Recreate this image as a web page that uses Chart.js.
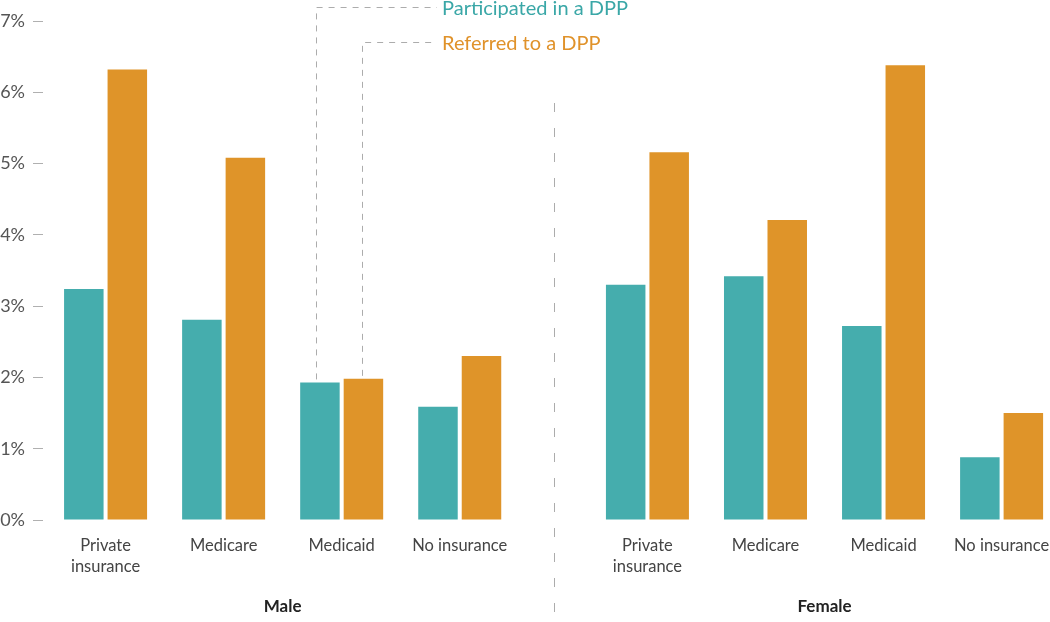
<!DOCTYPE html>
<html>
<head>
<meta charset="utf-8">
<script src="https://cdn.jsdelivr.net/npm/chart.js@4"></script>
<style>
  html, body { margin: 0; padding: 0; background: #fff; }
  #wrap { width: 1050px; height: 622px; position: relative; }
</style>
</head>
<body>
<div id="wrap"><canvas id="dppChart" width="1050" height="622"></canvas></div>
<script>
// categories per panel
const insurance = [['Private', 'insurance'], 'Medicare', 'Medicaid', 'No insurance'];
const panels = ['Male', 'Female'];
// percent of adults with prediabetes
const participatedMale = [3.24, 2.81, 1.93, 1.59];
const participatedFemale = [3.30, 3.42, 2.72, 0.88];
const referredMale = [6.32, 5.08, 1.98, 2.30];
const referredFemale = [5.16, 4.21, 6.38, 1.50];
const yTicks = [0, 1, 2, 3, 4, 5, 6, 7];

const TEAL = '#45adad';
const ORANGE = '#df9429';
const PANEL_GAP = 0.59; // extra space between Male and Female panels (category units)

const labels = [...insurance, ...insurance];
const xPos = labels.map((_, i) => i < insurance.length ? i : i + PANEL_GAP);
const participated = [...participatedMale, ...participatedFemale];
const referred = [...referredMale, ...referredFemale];

const font = 'Lato, "Noto Sans", sans-serif';

const annotations = {
    id: 'annotations',
    afterDatasetsDraw(chart) {
        const c = chart.ctx;
        const xs = chart.scales.x;
        c.save();
        c.strokeStyle = '#acacac';
        c.lineWidth = 1;

        // divider between panels
        const midVal = (xPos[insurance.length - 1] + xPos[insurance.length]) / 2;
        const dx = Math.round(xs.getPixelForValue(midVal)) + 0.5;
        c.setLineDash([9, 16]);
        c.beginPath();
        c.moveTo(dx, 103);
        c.lineTo(dx, chart.height);
        c.stroke();

        // leader lines to the male Medicaid bars
        const tealBar = chart.getDatasetMeta(0).data[2];
        const orangeBar = chart.getDatasetMeta(1).data[2];
        const textX = 442;
        const legend = [
            { bar: tealBar, shift: -3.5, y: 7.5, text: 'Participated in a DPP', color: '#3aa7a7' },
            { bar: orangeBar, shift: -1.5, y: 42.5, text: 'Referred to a DPP', color: '#e0922a' }
        ];
        c.setLineDash([6, 6]);
        legend.forEach(l => {
            const lx = Math.round(l.bar.x + l.shift) + 0.5;
            c.beginPath();
            c.moveTo(lx, l.bar.y - 3);
            c.lineTo(lx, l.y);
            c.lineTo(textX - 5, l.y);
            c.stroke();
        });
        c.setLineDash([]);
        c.font = '20px ' + font;
        c.textBaseline = 'middle';
        c.textAlign = 'left';
        legend.forEach(l => {
            c.fillStyle = l.color;
            c.fillText(l.text, textX, l.y + 1);
        });

        // panel titles
        c.font = 'bold 17px ' + font;
        c.fillStyle = '#222';
        c.textAlign = 'center';
        panels.forEach((p, k) => {
            const first = xPos[k * insurance.length];
            const last = xPos[k * insurance.length + insurance.length - 1];
            c.fillText(p, xs.getPixelForValue((first + last) / 2), 607);
        });
        c.restore();
    }
};

new Chart(document.getElementById('dppChart'), {
    type: 'bar',
    data: {
        datasets: [
            {
                label: 'Participated in a DPP',
                data: xPos.map((x, i) => ({ x, y: participated[i] })),
                backgroundColor: TEAL
            },
            {
                label: 'Referred to a DPP',
                data: xPos.map((x, i) => ({ x, y: referred[i] })),
                backgroundColor: ORANGE
            }
        ]
    },
    options: {
        responsive: false,
        animation: false,
        categoryPercentage: 0.737,
        barPercentage: 0.908,
        layout: { padding: { top: 21, right: 0, bottom: 0, left: 0 } },
        plugins: { legend: { display: false }, tooltip: { enabled: false } },
        scales: {
            x: {
                type: 'linear',
                offset: false,
                min: -0.53,
                max: 8,
                grid: { display: false, drawTicks: false },
                border: { display: false },
                afterBuildTicks: s => { s.ticks = xPos.map(v => ({ value: v })); },
                afterFit: s => { s.height = 102; s.paddingLeft = 0; s.paddingRight = 0; },
                ticks: {
                    autoSkip: false,
                    maxRotation: 0,
                    padding: 15,
                    color: '#444',
                    font: { family: font, size: 16.5, lineHeight: 1.28 },
                    callback: (v) => labels[xPos.indexOf(v)]
                }
            },
            y: {
                min: 0,
                max: 7,
                afterBuildTicks: s => { s.ticks = yTicks.map(v => ({ value: v })); },
                afterFit: s => { s.width = 43; s.paddingTop = 0; s.paddingBottom = 0; },
                grid: { drawOnChartArea: false, tickLength: 10, color: '#b0b0b0' },
                border: { display: false },
                ticks: {
                    padding: 8,
                    color: '#555',
                    font: { family: font, size: 18 },
                    callback: v => v + '%'
                }
            }
        }
    },
    plugins: [annotations]
});
</script>
</body>
</html>
